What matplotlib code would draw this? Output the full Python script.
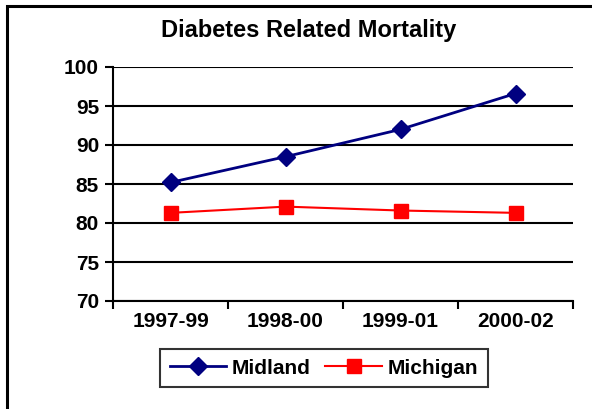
"""Diabetes related mortality — Midland vs Michigan, 3-year rolling rates."""

import matplotlib
matplotlib.use('Agg')

import matplotlib.pyplot as plt
import matplotlib.patches as patches
from matplotlib.ticker import FixedLocator, NullFormatter

# ── Data ──────────────────────────────────────────────────────────────────────
periods  = ['1997-99', '1998-00', '1999-01', '2000-02']
midland  = [85.2, 88.5, 92.0, 96.6]
michigan = [81.3, 82.1, 81.6, 81.3]
y_ticks  = [70, 75, 80, 85, 90, 95, 100]

plt.rcParams['font.family'] = ['Liberation Sans', 'DejaVu Sans']
plt.rcParams['font.weight'] = 'bold'

# ── Figure ────────────────────────────────────────────────────────────────────
W, H = 592, 409
fig = plt.figure(figsize=(W / 100, H / 100), dpi=100)
ax = fig.add_axes([113 / W, 1 - 301 / H, (573 - 113) / W, (301 - 67) / H])

# outer frame (only left + top visible in the reference, the rest is cropped)
fig.add_artist(patches.Rectangle(
    (7 / W, -0.1), 1.2, 1 - 6 / H + 0.1,
    transform=fig.transFigure, linewidth=2.2, edgecolor='black',
    facecolor='none', zorder=0
))

x = list(range(len(periods)))
ax.plot(x, midland, color='#000080', linewidth=2, marker='D', markersize=9,
        label='Midland', zorder=4, clip_on=False)
ax.plot(x, michigan, color='#FF0000', linewidth=1.5, marker='s', markersize=10,
        label='Michigan', zorder=4, clip_on=False)

ax.set_xlim(-0.5, len(periods) - 0.5)
ax.set_ylim(70, 100)
ax.set_yticks(y_ticks)
ax.yaxis.grid(True, color='black', linewidth=1.5)
ax.set_axisbelow(True)

# category boundaries carry the ticks; labels sit between them
ax.xaxis.set_major_locator(FixedLocator([i - 0.5 for i in range(len(periods) + 1)]))
ax.xaxis.set_major_formatter(NullFormatter())
ax.xaxis.set_minor_locator(FixedLocator(x))
ax.set_xticklabels(periods, minor=True)
ax.tick_params(axis='x', which='minor', length=0, labelsize=15, pad=8)
ax.tick_params(axis='x', which='major', length=6, width=1.5, direction='out')
ax.tick_params(axis='y', length=6, width=1.5, labelsize=15, pad=4)

for side in ('top', 'right'):
    ax.spines[side].set_visible(False)
for side in ('left', 'bottom'):
    ax.spines[side].set_linewidth(1.5)

fig.text(309 / W, 1 - 31 / H, 'Diabetes Related Mortality',
         ha='center', va='center', fontsize=17, fontweight='bold')

leg = fig.legend(loc='center', bbox_to_anchor=(324 / W, 1 - 368 / H), ncol=2,
                 fontsize=15, frameon=True, fancybox=False, edgecolor='black',
                 handlelength=2.7, columnspacing=0.7, handletextpad=0.3,
                 borderpad=0.45)
leg.get_frame().set_linewidth(1.5)

fig.savefig('out.png', dpi=100)
